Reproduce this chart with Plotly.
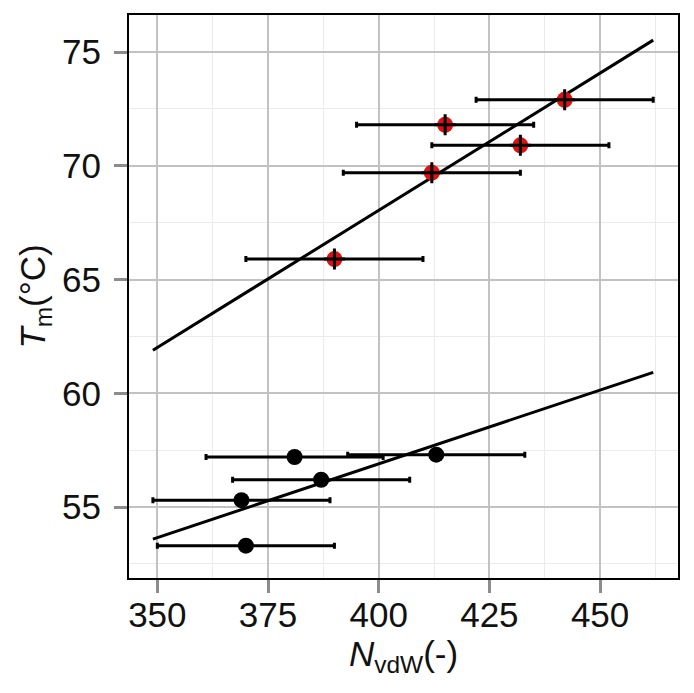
import numpy as np
import plotly.graph_objects as go

# Data
red_x = [390.0, 412.0, 415.0, 432.0, 442.0]
red_y = [65.9, 69.7, 71.8, 70.9, 72.9]
red_err = [20.0, 20.0, 20.0, 20.0, 20.0]

black_x = [369.0, 370.0, 381.0, 387.0, 413.0]
black_y = [55.3, 53.3, 57.2, 56.2, 57.3]
black_err = [20.0, 20.0, 20.0, 20.0, 20.0]

x_ticks = [350, 375, 400, 425, 450]
y_ticks = [55, 60, 65, 70, 75]

# full-range fits over the x extent of the error bars
all_lo = min(min(np.array(red_x) - np.array(red_err)), min(np.array(black_x) - np.array(black_err)))
all_hi = max(max(np.array(red_x) + np.array(red_err)), max(np.array(black_x) + np.array(black_err)))
xs = np.array([all_lo, all_hi])

fig = go.Figure()
for gx, gy in [(red_x, red_y), (black_x, black_y)]:
    k, b = np.polyfit(gx, gy, 1)
    fig.add_trace(go.Scatter(x=xs, y=k * xs + b, mode="lines",
                             line=dict(color="black", width=3), showlegend=False,
                             hoverinfo="skip"))

fig.add_trace(go.Scatter(x=black_x, y=black_y, mode="markers",
                         marker=dict(color="black", size=16, line=dict(width=0)),
                         error_x=dict(type="data", array=black_err, color="black",
                                      thickness=3, width=3),
                         showlegend=False))
fig.add_trace(go.Scatter(x=red_x, y=red_y, mode="markers",
                         marker=dict(color="#e01010", size=16, line=dict(width=0)),
                         error_x=dict(type="data", array=red_err, color="black",
                                      thickness=3, width=3),
                         showlegend=False))
fig.add_trace(go.Scatter(x=red_x, y=red_y, mode="markers",
                         marker=dict(symbol="cross-thin", size=15,
                                     line=dict(color="black", width=3)),
                         showlegend=False, hoverinfo="skip"))

font_main = "Liberation Sans, Arial, sans-serif"
axis_common = dict(
    showline=True, linecolor="black", linewidth=2, mirror=True,
    showgrid=True, gridcolor="#c2c2c2", gridwidth=2,
    ticks="outside", ticklen=13, tickwidth=3, tickcolor="#8c8c8c",
    tickfont=dict(family=font_main, size=35, color="#111111"),
    zeroline=False, automargin=False,
    minor=dict(showgrid=True, gridcolor="#ebebeb", gridwidth=1, ticks=""),
)

fig.update_xaxes(range=[343.6, 467.6], tickvals=x_ticks,
                 ticklabelstandoff=-8,
                 minor_dtick=12.5, minor_tick0=337.5,
                 title=dict(text="<i>N</i><sub>vdW</sub>(-)", standoff=6,
                            font=dict(family=font_main, size=35, color="#111111")),
                 **axis_common)
fig.update_yaxes(range=[51.88, 76.63], tickvals=y_ticks,
                 ticklabelstandoff=6,
                 minor_dtick=2.5, minor_tick0=50,
                 title=dict(text="<i>T</i><sub>m</sub>(°C)", standoff=6,
                            font=dict(family=font_main, size=35, color="#111111")),
                 **axis_common)

fig.update_layout(
    width=686, height=685,
    margin=dict(l=121, r=16, t=7, b=115),
    paper_bgcolor="white", plot_bgcolor="white",
    showlegend=False,
)

fig.write_html("out.html")
